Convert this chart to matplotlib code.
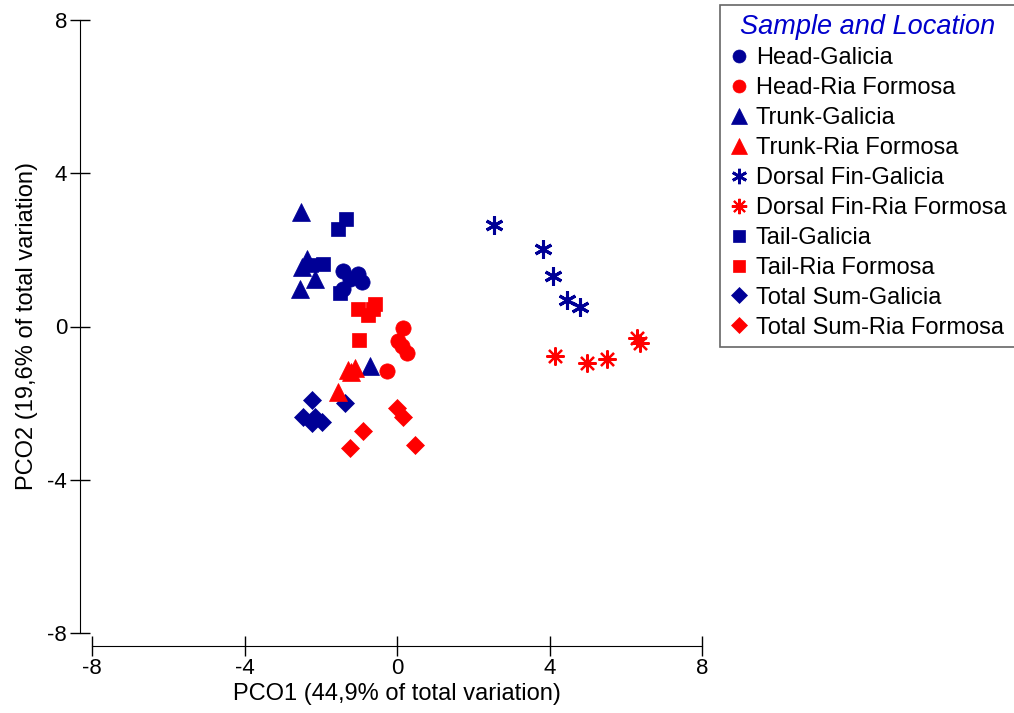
import matplotlib
matplotlib.use("Agg")
import matplotlib.pyplot as plt
from matplotlib.lines import Line2D

plt.rcParams['font.family'] = ['Liberation Sans', 'DejaVu Sans']
plt.rcParams['axes.unicode_minus'] = False

BLUE = "#000096"
RED = "#FF0000"

# ---- data (PCO1, PCO2) ----
head_gal_x = [-1.42, -1.02, -0.92, -1.42, -1.23]
head_gal_y = [1.44, 1.38, 1.17, 0.99, 1.23]
head_rf_x = [0.16, 0.03, 0.13, 0.26, -0.26]
head_rf_y = [-0.03, -0.39, -0.52, -0.70, -1.17]
trunk_gal_x = [-2.52, -2.36, -2.15, -2.55, -2.50, -0.71]
trunk_gal_y = [2.98, 1.75, 1.25, 0.97, 1.55, -1.04]
trunk_rf_x = [-1.29, -1.10, -1.55, -1.20]
trunk_rf_y = [-1.13, -1.09, -1.70, -1.20]
dorsal_gal_x = [2.55, 3.83, 4.09, 4.46, 4.80]
dorsal_gal_y = [2.66, 2.01, 1.31, 0.70, 0.50]
dorsal_rf_x = [4.15, 4.99, 5.51, 6.30, 6.38]
dorsal_rf_y = [-0.78, -0.94, -0.86, -0.31, -0.44]
tail_gal_x = [-1.55, -1.35, -1.94, -2.25, -1.50]
tail_gal_y = [2.55, 2.80, 1.62, 1.60, 0.88]
tail_rf_x = [-1.02, -0.58, -0.76, -0.62, -1.00]
tail_rf_y = [0.45, 0.58, 0.31, 0.45, -0.34]
total_gal_x = [-2.23, -2.47, -2.15, -1.97, -1.36, -2.23]
total_gal_y = [-1.91, -2.35, -2.35, -2.48, -2.00, -2.53]
total_rf_x = [0.00, 0.16, -0.89, -1.23, 0.47]
total_rf_y = [-2.13, -2.35, -2.74, -3.18, -3.10]

labels = ["Head-Galicia", "Head-Ria Formosa", "Trunk-Galicia", "Trunk-Ria Formosa",
          "Dorsal Fin-Galicia", "Dorsal Fin-Ria Formosa", "Tail-Galicia", "Tail-Ria Formosa",
          "Total Sum-Galicia", "Total Sum-Ria Formosa"]
xs = [head_gal_x, head_rf_x, trunk_gal_x, trunk_rf_x, dorsal_gal_x, dorsal_rf_x,
      tail_gal_x, tail_rf_x, total_gal_x, total_rf_x]
ys = [head_gal_y, head_rf_y, trunk_gal_y, trunk_rf_y, dorsal_gal_y, dorsal_rf_y,
      tail_gal_y, tail_rf_y, total_gal_y, total_rf_y]

colors = [BLUE, RED] * 5
markers = ['o', 'o', '^', '^', (6, 2, 0), (8, 2, 0), 's', 's', 'D', 'D']
msizes = [11, 11, 13, 13, 13, 13, 10, 10, 9, 9]
zorders = [3, 4, 3, 6, 3, 4, 3, 5, 2, 2]

W, H = 1014, 713
fig = plt.figure(figsize=(W / 100, H / 100), dpi=100)
ax = fig.add_axes([92 / W, 1 - 633 / H, (702 - 92) / W, (633 - 20) / H])

handles = []
for x, y, c, m, ms, z, lab in zip(xs, ys, colors, markers, msizes, zorders, labels):
    star = isinstance(m, tuple)
    ax.plot(x, y, linestyle='none', marker=m, markersize=ms, color=c,
            markeredgecolor=c, markeredgewidth=(2.2 if m[0] == 6 else 1.6) if star else 0.5,
            zorder=z)
    handles.append(Line2D([], [], linestyle='none', marker=m,
                          markersize=ms * 0.85, color=c, markeredgecolor=c,
                          markeredgewidth=(2.0 if m[0] == 6 else 1.5) if star else 0.5,
                          label=lab))

ax.set_xlim(-8, 8)
ax.set_ylim(-8, 8)
ax.set_xticks([-8, -4, 0, 4, 8])
ax.set_yticks([-8, -4, 0, 4, 8])
for s in ['top', 'right']:
    ax.spines[s].set_visible(False)
ax.spines['left'].set_position(('outward', 9))
ax.spines['bottom'].set_position(('outward', 9))
ax.tick_params(direction='inout', length=14, width=1, labelsize=16, pad=2)
ax.set_xlabel("PCO1 (44,9% of total variation)", fontsize=17, labelpad=3)
ax.set_ylabel("PCO2 (19,6% of total variation)", fontsize=17, labelpad=7)

leg = fig.legend(handles=handles, loc='upper left',
                 bbox_to_anchor=(720 / W, 1 - 5 / H), bbox_transform=fig.transFigure,
                 fontsize=17, frameon=True, fancybox=False, edgecolor='#404040',
                 borderaxespad=0, handletextpad=0.25, handlelength=0.9,
                 labelspacing=0.335, borderpad=0.36,
                 title="Sample and Location")
leg.get_title().set_color("#0000CC")
leg.get_title().set_fontstyle('italic')
leg.get_title().set_fontsize(19.5)
leg.get_frame().set_linewidth(1.2)

fig.savefig("out.png", dpi=100)
